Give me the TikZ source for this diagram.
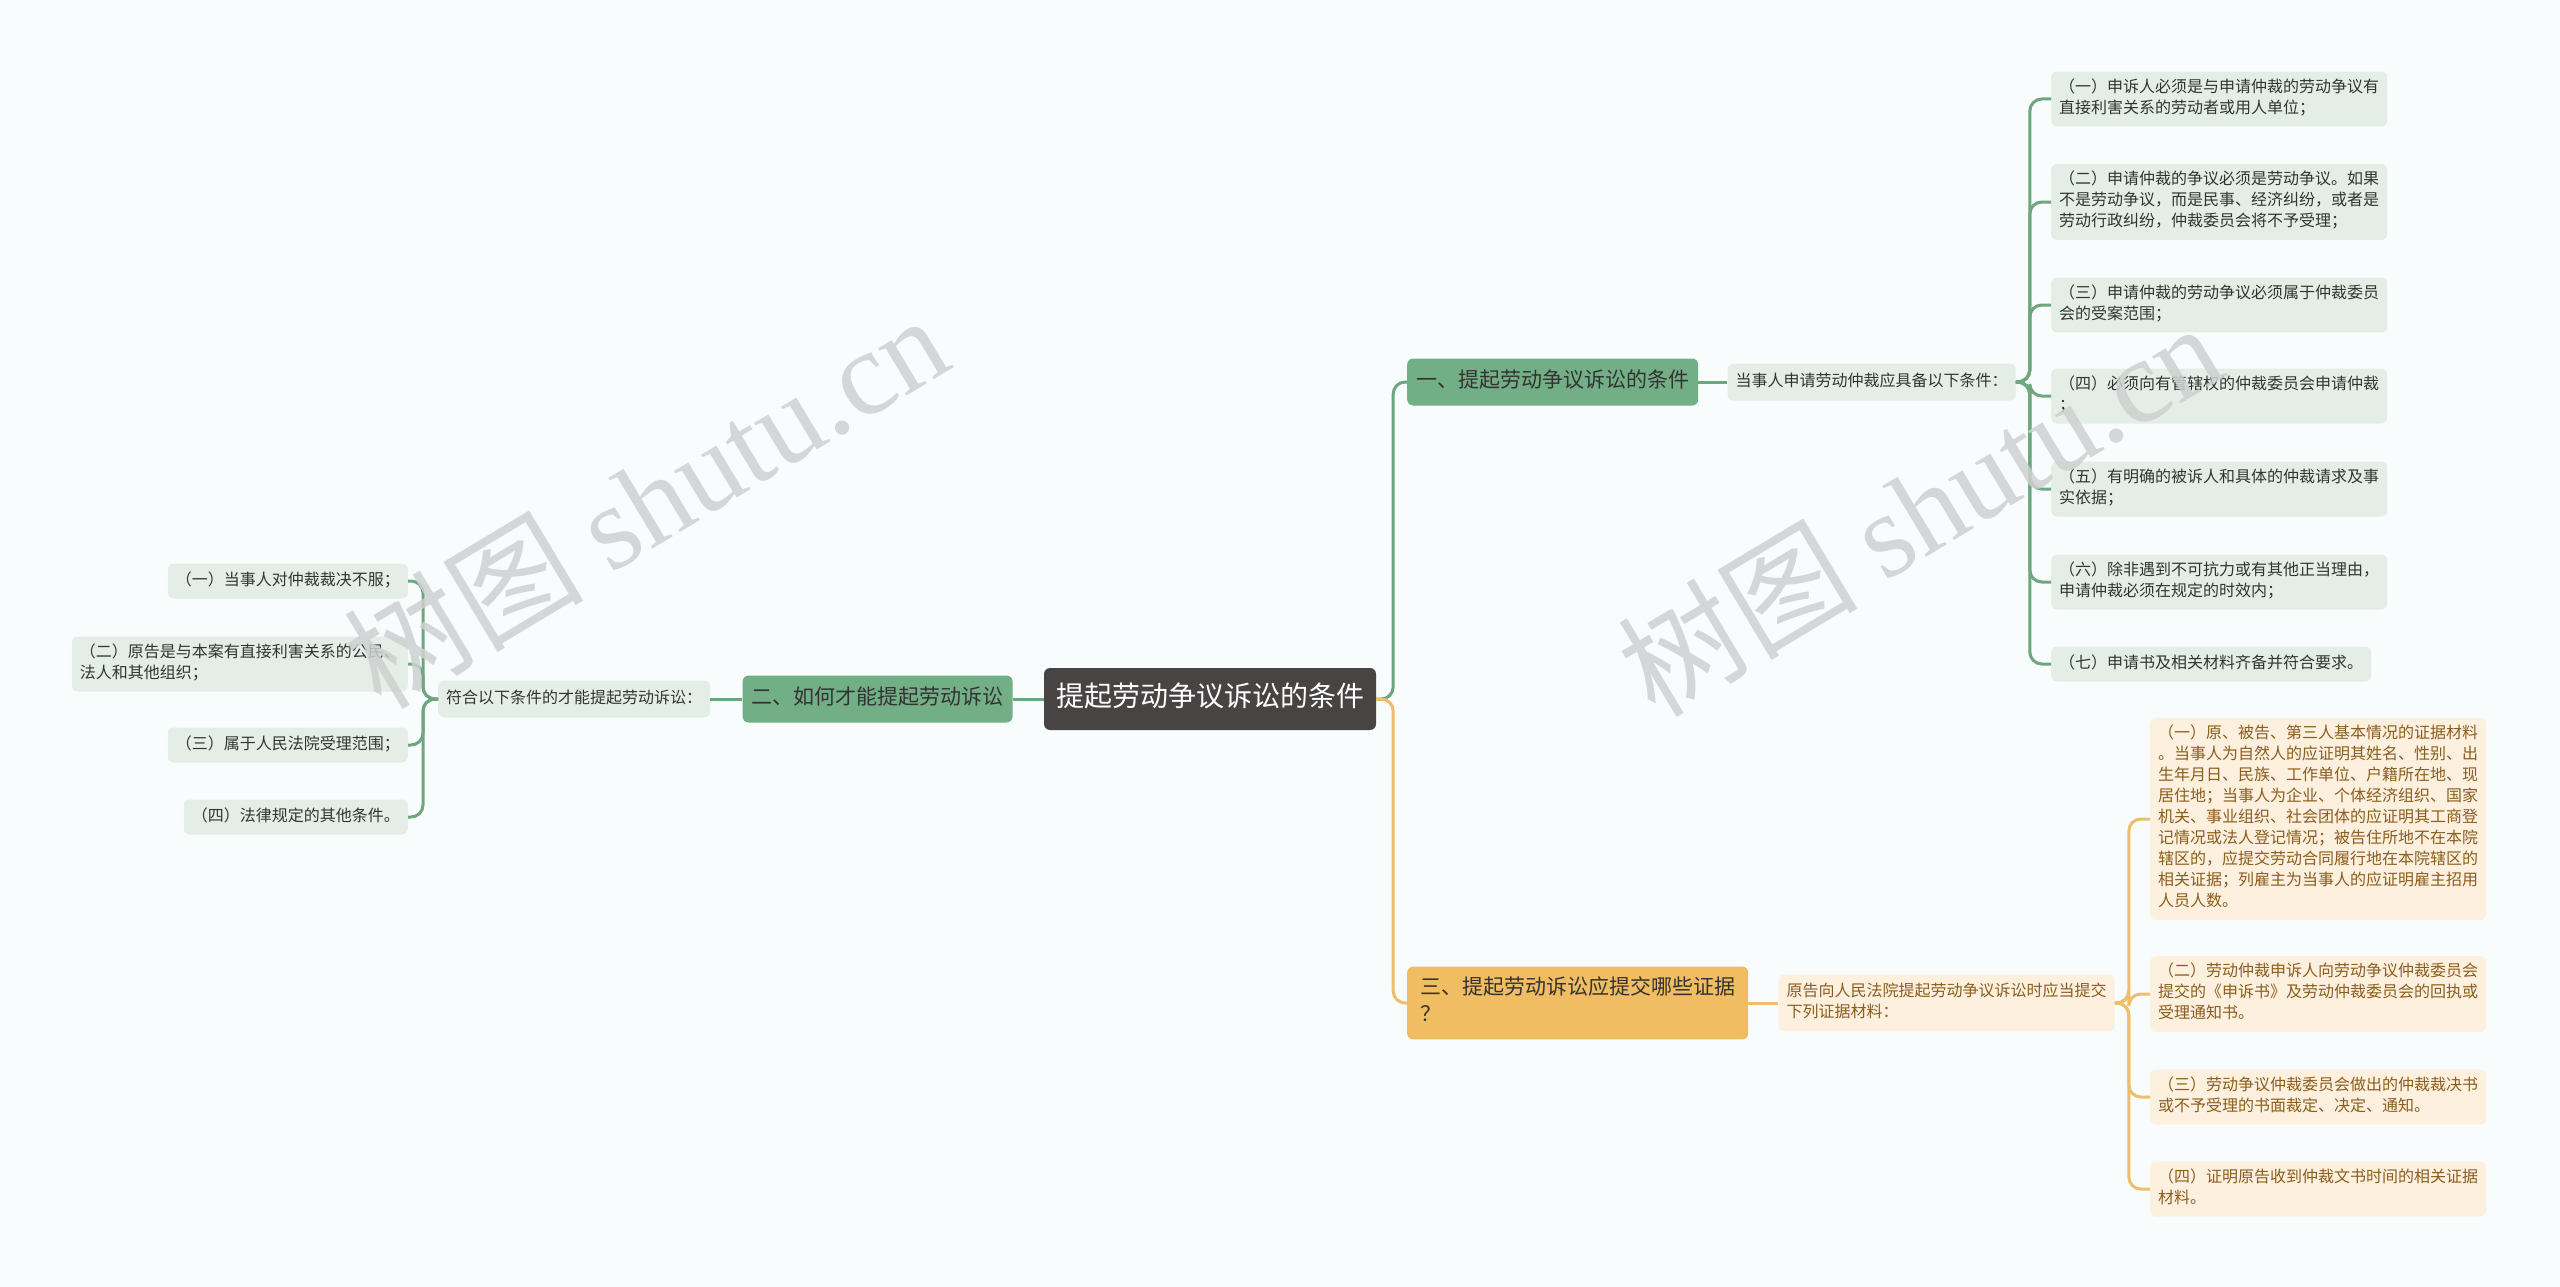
\documentclass[tikz,border=0pt]{standalone}
\usepackage{fontspec}
\setmainfont{Noto Sans CJK SC}
\newfontfamily\markserif{Liberation Serif}
\usepackage{xcolor}
\usetikzlibrary{positioning}

\definecolor{bgpaper}{HTML}{F8FCFD}
\definecolor{rootfill}{HTML}{484444}
\definecolor{greenfill}{HTML}{72AE86}
\definecolor{greenline}{HTML}{6EA67E}
\definecolor{greenpale}{HTML}{E4EEE7}
\definecolor{orangefill}{HTML}{F1BD63}
\definecolor{orangeline}{HTML}{EFBE6A}
\definecolor{orangepale}{HTML}{FDF0DF}
\definecolor{orangetext}{HTML}{8A5E1E}
\definecolor{darktext}{HTML}{333333}
\definecolor{marktext}{HTML}{CDD1D1}

\begin{document}
\begin{tikzpicture}[
        x=1pt, y=-1pt,
        % Node styles
        rootbox/.style={rectangle, fill=rootfill, text=white, rounded corners=6pt,
                        font=\fontsize{28}{36}\selectfont, inner xsep=12pt, inner ysep=13pt,
                        execute at begin node=\strut},
        greentopic/.style={rectangle, fill=greenfill, text=darktext, rounded corners=6pt,
                        font=\fontsize{21}{27}\selectfont, inner xsep=9pt, inner ysep=10pt,
                        align=left, execute at begin node=\strut, execute at end node=\strut},
        orangetopic/.style={greentopic, fill=orangefill, text=black!80, inner xsep=13pt},
        greensub/.style={rectangle, fill=greenpale, text=darktext, rounded corners=6pt,
                        font=\fontsize{16}{21}\selectfont, inner xsep=8pt, inner ysep=8pt,
                        align=left, execute at begin node=\strut, execute at end node=\strut},
        orangesub/.style={greensub, fill=orangepale, text=orangetext},
        greenitem/.style={greensub, inner ysep=7pt},
        orangeitem/.style={orangesub, inner ysep=7pt},
        greenlink/.style={draw=greenline, line width=3pt, rounded corners=12pt},
        orangelink/.style={draw=orangeline, line width=3pt, rounded corners=12pt},
        watermark/.style={text=marktext, text opacity=0.85, rotate=31,
                        font=\fontsize{120}{120}\selectfont}
    ]
        % Page and background
        \useasboundingbox (0,0) rectangle (2560,1287);
        \fill[bgpaper] (0,0) rectangle (2560,1287);

        % Centre and main topics
        \node[rootbox] (root) at (1210,699) {提起劳动争议诉讼的条件};
        \node[greentopic, anchor=west] (cond) at (1407,382) {一、提起劳动争议诉讼的条件};
        \node[greentopic, left=31pt of root] (how) {二、如何才能提起劳动诉讼};
        \node[orangetopic, anchor=west] (evid) at (1407,1003) {三、提起劳动诉讼应提交哪些证据\\？};

        % Sub topics
        \node[greensub, right=29pt of cond] (condlist) {当事人申请劳动仲裁应具备以下条件：};
        \node[greensub, left=32pt of how] (howlist) {符合以下条件的才能提起劳动诉讼：};
        \node[orangesub, right=30pt of evid] (evidlist) {原告向人民法院提起劳动争议诉讼时应当提交\\下列证据材料：};

        % Conditions for arbitration
        \node[greenitem, anchor=west] (cond1) at (2051,99) {（一）申诉人必须是与申请仲裁的劳动争议有\\直接利害关系的劳动者或用人单位；};
        \node[greenitem, anchor=west] (cond2) at (2051,202) {（二）申请仲裁的争议必须是劳动争议。如果\\不是劳动争议，而是民事、经济纠纷，或者是\\劳动行政纠纷，仲裁委员会将不予受理；};
        \node[greenitem, anchor=west] (cond3) at (2051,305) {（三）申请仲裁的劳动争议必须属于仲裁委员\\会的受案范围；};
        \node[greenitem, anchor=west] (cond4) at (2051,396) {（四）必须向有管辖权的仲裁委员会申请仲裁\\；};
        \node[greenitem, anchor=west] (cond5) at (2051,489) {（五）有明确的被诉人和具体的仲裁请求及事\\实依据；};
        \node[greenitem, anchor=west] (cond6) at (2051,582) {（六）除非遇到不可抗力或有其他正当理由，\\申请仲裁必须在规定的时效内；};
        \node[greenitem, anchor=west] (cond7) at (2051,664) {（七）申请书及相关材料齐备并符合要求。};

        % Conditions for a lawsuit
        \node[greenitem, anchor=east] (how1) at (408,581) {（一）当事人对仲裁裁决不服；};
        \node[greenitem, anchor=east] (how2) at (408,664) {（二）原告是与本案有直接利害关系的公民、\\法人和其他组织；};
        \node[greenitem, anchor=east] (how3) at (408,745) {（三）属于人民法院受理范围；};
        \node[greenitem, anchor=east] (how4) at (408,817) {（四）法律规定的其他条件。};

        % Evidence to hand in
        \node[orangeitem, anchor=west] (evid1) at (2150,819) {（一）原、被告、第三人基本情况的证据材料\\。当事人为自然人的应证明其姓名、性别、出\\生年月日、民族、工作单位、户籍所在地、现\\居住地；当事人为企业、个体经济组织、国家\\机关、事业组织、社会团体的应证明其工商登\\记情况或法人登记情况；被告住所地不在本院\\辖区的，应提交劳动合同履行地在本院辖区的\\相关证据；列雇主为当事人的应证明雇主招用\\人员人数。};
        \node[orangeitem, anchor=west] (evid2) at (2150,994) {（二）劳动仲裁申诉人向劳动争议仲裁委员会\\提交的《申诉书》及劳动仲裁委员会的回执或\\受理通知书。};
        \node[orangeitem, anchor=west] (evid3) at (2150,1097) {（三）劳动争议仲裁委员会做出的仲裁裁决书\\或不予受理的书面裁定、决定、通知。};
        \node[orangeitem, anchor=west] (evid4) at (2150,1189) {（四）证明原告收到仲裁文书时间的相关证据\\材料。};

        % Links from the centre
        \draw[greenlink] (root.east) -- ++(17,0) |- (cond.west);
        \draw[orangelink] (root.east) -- ++(17,0) |- (evid.west);
        \draw[greenlink] (root) -- (how);

        % Links to sub topics
        \draw[greenlink] (cond) -- (condlist);
        \draw[greenlink] (how) -- (howlist);
        \draw[orangelink] (evid) -- (evidlist);

        % Links to items
        \draw[greenlink] (condlist.east) -- ++(14,0) |- (cond1.west);
        \draw[greenlink] (condlist.east) -- ++(14,0) |- (cond2.west);
        \draw[greenlink] (condlist.east) -- ++(14,0) |- (cond3.west);
        \draw[greenlink] (condlist.east) -- ++(14,0) |- (cond4.west);
        \draw[greenlink] (condlist.east) -- ++(14,0) |- (cond5.west);
        \draw[greenlink] (condlist.east) -- ++(14,0) |- (cond6.west);
        \draw[greenlink] (condlist.east) -- ++(14,0) |- (cond7.west);

        \draw[greenlink] (howlist.west) -- ++(-15,0) |- (how1.east);
        \draw[greenlink] (howlist.west) -- ++(-15,0) |- (how2.east);
        \draw[greenlink] (howlist.west) -- ++(-15,0) |- (how3.east);
        \draw[greenlink] (howlist.west) -- ++(-15,0) |- (how4.east);

        \draw[orangelink] (evidlist.east) -- ++(14,0) |- (evid1.west);
        \draw[orangelink] (evidlist.east) -- ++(14,0) |- (evid2.west);
        \draw[orangelink] (evidlist.east) -- ++(14,0) |- (evid3.west);
        \draw[orangelink] (evidlist.east) -- ++(14,0) |- (evid4.west);

        % Watermarks
        \node[watermark] (markleft) at (645,500) {树图 {\markserif shutu.cn}};
        \node[watermark] (markright) at (1919,508) {树图 {\markserif shutu.cn}};
    \end{tikzpicture}
\end{document}
